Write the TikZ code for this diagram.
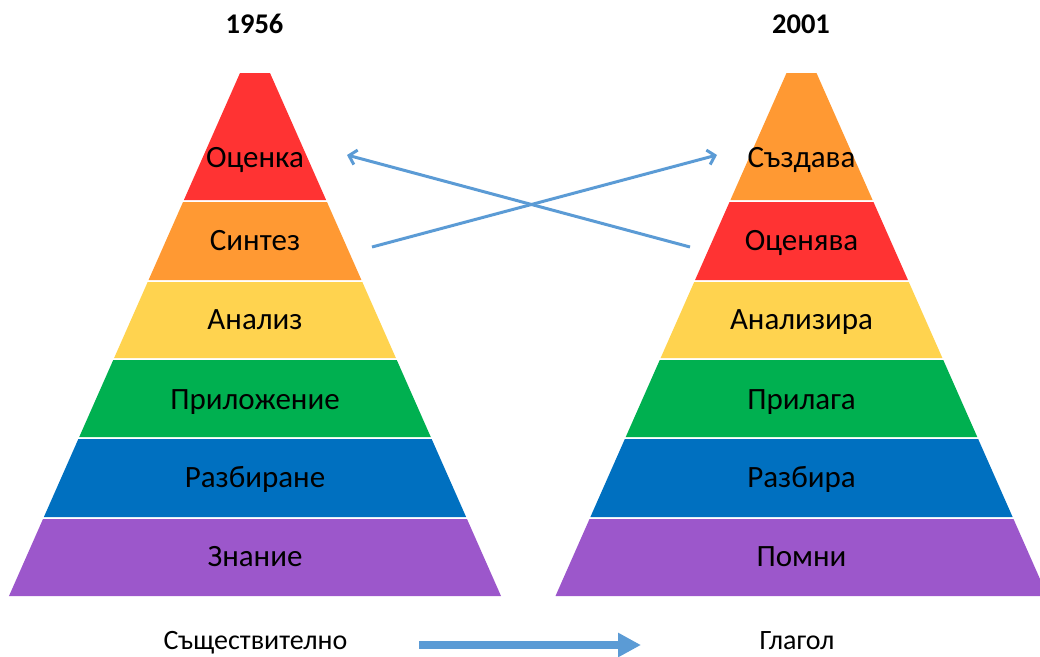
\documentclass[tikz,border=0pt]{standalone}
\usepackage{fontspec}
\setmainfont{Carlito}
\usetikzlibrary{arrows.meta}

\definecolor{lvred}{HTML}{FF3333}
\definecolor{lvorange}{HTML}{FF9933}
\definecolor{lvyellow}{HTML}{FFD34F}
\definecolor{lvgreen}{HTML}{00B050}
\definecolor{lvblue}{HTML}{0070C0}
\definecolor{lvpurple}{HTML}{9C57CB}
\definecolor{linkblue}{HTML}{5B9BD5}

\tikzset{
  level/.style={anchor=base, inner sep=0pt, font=\fontsize{31}{36}\selectfont, text=black},
  title/.style={anchor=base, inner sep=0pt, font=\fontsize{28.5}{33}\selectfont\bfseries},
  caption/.style={anchor=base, inner sep=0pt, font=\fontsize{28}{32}\selectfont},
  swap/.style={draw=linkblue, line width=3pt, -{Straight Barb[length=7pt,width=15pt,line width=3pt]}},
  shift arrow/.style={draw=linkblue, line width=7.5pt, -{Triangle[length=23pt,width=23pt]}},
}

% half width of a pyramid at height y (y grows downward)
\newcommand\halfw[1]{15+0.4417*(#1-73)}

\begin{document}
\begin{tikzpicture}[x=1pt,y=-1pt]
  \useasboundingbox (0,0) rectangle (1040,656);
  \clip (0,0) rectangle (1040,656);

  % left pyramid (1956)
  \foreach \yt/\yb/\col/\txt/\tb [count=\i] in {
      73/200/lvred/Оценка/167,
      202/280/lvorange/Синтез/250,
      282/358/lvyellow/Анализ/329.5,
      360/437/lvgreen/Приложение/409.5,
      439/517/lvblue/Разбиране/487.5,
      519/596/lvpurple/Знание/566.5} {
    \pgfmathsetmacro\wt{\halfw{\yt}}
    \pgfmathsetmacro\wb{\halfw{\yb}}
    \fill[\col] (255-\wt,\yt) -- (255+\wt,\yt) -- (255+\wb,\yb) -- (255-\wb,\yb) -- cycle;
    \node[level] (old\i) at (255,\tb) {\txt};
  }

  % right pyramid (2001)
  \foreach \yt/\yb/\col/\txt/\tb [count=\i] in {
      73/200/lvorange/Създава/167,
      202/280/lvred/Оценява/250,
      282/358/lvyellow/Анализира/329.5,
      360/437/lvgreen/Прилага/409.5,
      439/517/lvblue/Разбира/487.5,
      519/596/lvpurple/Помни/566.5} {
    \pgfmathsetmacro\wt{\halfw{\yt}}
    \pgfmathsetmacro\wb{\halfw{\yb}}
    \fill[\col] (801.5-\wt,\yt) -- (801.5+\wt,\yt) -- (801.5+\wb,\yb) -- (801.5-\wb,\yb) -- cycle;
    \node[level] (new\i) at (801.5,\tb) {\txt};
  }

  % titles
  \node[title] (y1956) at (254.5,33) {1956};
  \node[title] (y2001) at (801,33) {2001};

  % swapped top levels
  \coordinate (synthFrom) at (372,247);
  \coordinate (createTo) at (717,155);
  \coordinate (evalFrom) at (690,247);
  \coordinate (evalTo) at (347,155);
  \draw[swap] (synthFrom) -- (createTo);
  \draw[swap] (evalFrom) -- (evalTo);

  % noun -> verb
  \node[caption] (noun) at (255.5,649.5) {Съществително};
  \node[caption] (verb) at (797,649.5) {Глагол};
  \coordinate (shiftFrom) at (419,645);
  \coordinate (shiftTo) at (641,645);
  \draw[shift arrow] (shiftFrom) -- (shiftTo);
\end{tikzpicture}
\end{document}
